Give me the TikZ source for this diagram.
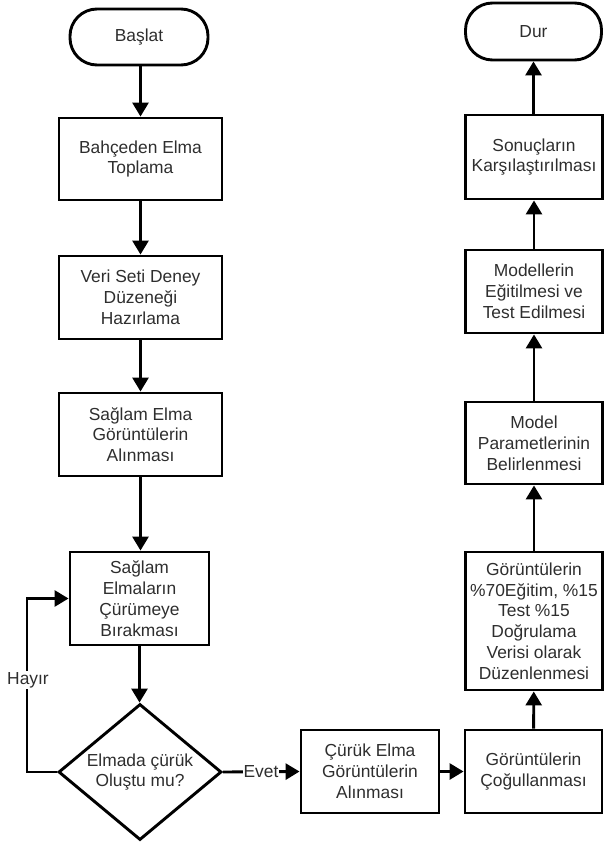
\documentclass[tikz,border=0pt]{standalone}
\usepackage{fontspec}
\setmainfont{Liberation Sans}
\usetikzlibrary{shapes.geometric,arrows.meta}
\begin{document}
\begin{tikzpicture}[x=1pt,y=-1pt,
  every node/.style={font=\fontsize{17.4}{20.8}\selectfont, text=black!82, align=center},
  box/.style={draw, line width=2.9pt, rectangle, inner sep=0pt},
  term/.style={draw, line width=2.9pt, rectangle, rounded corners=27pt, inner sep=0pt},
  decision/.style={draw, line width=2.9pt, diamond, aspect=1.2, inner sep=0pt},
  conn/.style={line width=2.9pt, -{Triangle[length=14pt,width=16pt]}},
  lbl/.style={fill=white, inner sep=1pt}
]
\useasboundingbox (0,0) rectangle (603,842);
% left column
\node[term, minimum width=138, minimum height=56] (start) at (139,37) {Başlat};
\node[box, minimum width=163, minimum height=82] (b1) at (140.5,159) {Bahçeden Elma\\Toplama};
\node[box, minimum width=163, minimum height=83] (b2) at (140.5,297.5) {Veri Seti Deney\\Düzeneği\\Hazırlama};
\node[box, minimum width=163, minimum height=83] (b3) at (140.5,434.5) {Sağlam Elma\\Görüntülerin\\Alınması};
\node[box, minimum width=139, minimum height=93] (b4) at (139.5,598.5) {Sağlam\\Elmaların\\Çürümeye\\Bırakması};
\node[decision, minimum width=163, minimum height=136] (dec) at (140,772) {Elmada çürük\\Oluştu mu?};
% bottom row
\node[box, minimum width=138, minimum height=83] (b5) at (370,771.5) {Çürük Elma\\Görüntülerin\\Alınması};
\node[box, minimum width=137, minimum height=83] (b6) at (533.5,771.5) {Görüntülerin\\Çoğullanması};
% right column
\node[box, minimum width=137, minimum height=138] (b7) at (534,621) {Görüntülerin\\\%70Eğitim, \%15\\Test \%15\\Doğrulama\\Verisi olarak\\Düzenlenmesi};
\node[box, minimum width=137, minimum height=82] (b8) at (534,443) {Model\\Parametlerinin\\Belirlenmesi};
\node[box, minimum width=137, minimum height=83] (b9) at (534,291.5) {Modellerin\\Eğitilmesi ve\\Test Edilmesi};
\node[box, minimum width=137, minimum height=84] (b10) at (534,157) {Sonuçların\\Karşılaştırılması};
\node[term, minimum width=136, minimum height=57] (stop) at (533.5,31.5) {Dur};
% connectors
\draw[conn] (start.south -| b1.north) -- (b1.north);
\draw[conn] (b1) -- (b2);
\draw[conn] (b2) -- (b3);
\draw[conn] (b3.south) -- (b3.south |- b4.north);
\draw[conn] (b4.south) -- (b4.south |- dec.north);
\coordinate (h1) at (27,772);
\coordinate (h2) at (27,598.5);
\draw[conn] (dec.west) -- (h1) -- (h2) -- (b4.west);
\node[lbl] (hayir) at (28,680) {Hayır};
\draw[conn] (dec.east) -- (b5.west);
\node[lbl] (evet) at (261,772) {Evet};
\draw[conn] (b5) -- (b6);
\draw[conn] (b6) -- (b7);
\draw[conn] (b7) -- (b8);
\draw[conn] (b8) -- (b9);
\draw[conn] (b9) -- (b10);
\draw[conn] (b10.north) -- (b10.north -| stop.south) -- (stop.south);
\end{tikzpicture}
\end{document}
